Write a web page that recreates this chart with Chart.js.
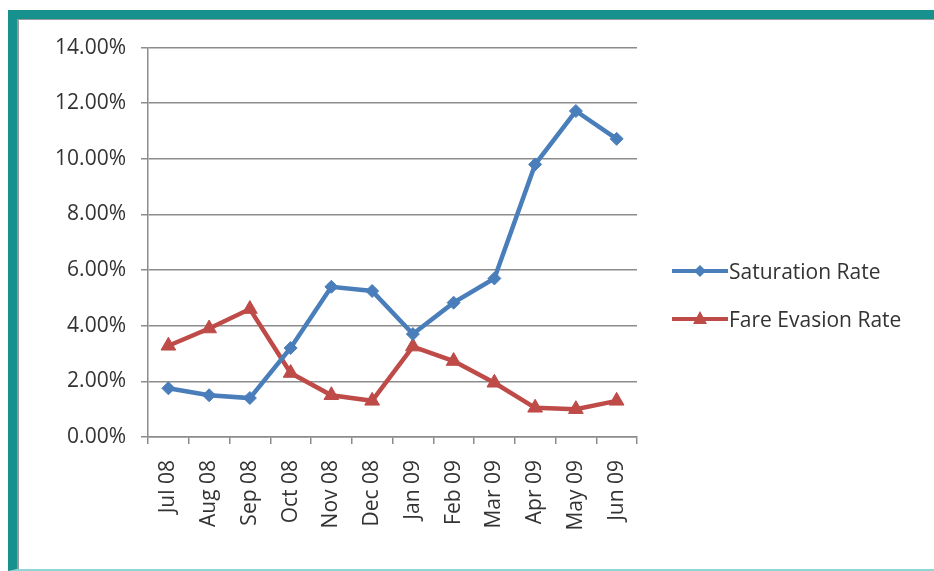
<!DOCTYPE html>
<html>
<head>
<meta charset="utf-8">
<script src="https://cdn.jsdelivr.net/npm/chart.js@4"></script>
<style>
  html, body { margin: 0; padding: 0; background: #fff; width: 934px; height: 571px; overflow: hidden; }
  #frame {
    position: absolute; left: 8px; top: 10px; width: 960px; height: 550px;
    border-top: 9px solid #17918d; border-left: 9px solid #17918d; border-bottom: 2px solid #8fd6d4;
  }
  #inner { position: absolute; left: 0; top: 0; right: 0; bottom: 0; border-top: 1px solid #9a9a9a; border-left: 2px solid #9a9a9a; }
  #wrap { position: absolute; left: 20px; top: 20px; width: 914px; height: 545px; }
  #legend { position: absolute; left: 672px; top: 247px; font-family: "Open Sans", sans-serif; font-size: 21px; color: #333; }
  .item { display: flex; align-items: center; height: 48px; }
  .item canvas { margin-right: 1px; }
</style>
</head>
<body>
<div id="frame"><div id="inner"></div></div>
<div id="wrap"><canvas id="chart"></canvas></div>
<div id="legend"></div>
<script>
const months = ["Jul 08", "Aug 08", "Sep 08", "Oct 08", "Nov 08", "Dec 08", "Jan 09", "Feb 09", "Mar 09", "Apr 09", "May 09", "Jun 09"];
const saturationRate = [1.75, 1.5, 1.4, 3.2, 5.4, 5.25, 3.7, 4.83, 5.7, 9.8, 11.72, 10.72];
const fareEvasionRate = [3.28, 3.9, 4.6, 2.3, 1.5, 1.3, 3.25, 2.73, 1.95, 1.05, 1.0, 1.3];

const BLUE = "#4a7ebb";
const RED = "#be4b48";
const TEXT = "#333333";
const GRID = "#8c8c8c";

const series = [
  { label: "Saturation Rate", data: saturationRate, color: BLUE, style: "rectRot", radius: 6.5 },
  { label: "Fare Evasion Rate", data: fareEvasionRate, color: RED, style: "triangle", radius: 8.5 },
];

new Chart(document.getElementById("chart"), {
  type: "line",
  data: {
    labels: months,
    datasets: series.map((s) => ({
      label: s.label,
      data: s.data,
      borderColor: s.color,
      backgroundColor: s.color,
      borderWidth: 4.5,
      pointStyle: s.style,
      pointRadius: s.radius,
      pointBorderWidth: 1,
      tension: 0,
    })),
  },
  options: {
    responsive: true,
    maintainAspectRatio: false,
    animation: false,
    layout: { padding: { top: 27, right: 297, left: 0, bottom: 0 } },
    plugins: { legend: { display: false }, tooltip: { enabled: false } },
    scales: {
      x: {
        offset: true,
        grid: { offset: true, drawOnChartArea: false, drawTicks: true, tickLength: 7, color: GRID, lineWidth: 1.5 },
        border: { color: GRID, width: 1.5 },
        ticks: {
          color: TEXT, font: { family: "Open Sans", size: 21 },
          minRotation: 90, maxRotation: 90, padding: 16, autoSkip: false,
        },
        afterFit: (scale) => { scale.height = 128; },
      },
      y: {
        min: 0, max: 14,
        grid: { color: GRID, lineWidth: 1.5, tickLength: 7 },
        border: { color: GRID, width: 1.5 },
        ticks: {
          stepSize: 2, color: TEXT, padding: 15,
          font: { family: "Open Sans", size: 21 },
          callback: (v) => v.toFixed(2) + "%",
        },
        afterFit: (scale) => { scale.width = 128; },
      },
    },
  },
});

// legend drawn next to the chart, same look as the Excel legend
const legend = document.getElementById("legend");
series.forEach((s) => {
  const row = document.createElement("div");
  row.className = "item";
  const c = document.createElement("canvas");
  c.width = 56; c.height = 24;
  const ctx = c.getContext("2d");
  ctx.strokeStyle = s.color; ctx.lineWidth = 4;
  ctx.beginPath(); ctx.moveTo(0, 12); ctx.lineTo(56, 12); ctx.stroke();
  ctx.fillStyle = s.color;
  ctx.beginPath();
  if (s.style === "rectRot") {
    ctx.moveTo(28, 6); ctx.lineTo(34, 12); ctx.lineTo(28, 18); ctx.lineTo(22, 12);
  } else {
    ctx.moveTo(28, 4); ctx.lineTo(35, 17); ctx.lineTo(21, 17);
  }
  ctx.closePath(); ctx.fill();
  const t = document.createElement("span");
  t.textContent = s.label;
  row.appendChild(c);
  row.appendChild(t);
  legend.appendChild(row);
});
</script>
</body>
</html>
